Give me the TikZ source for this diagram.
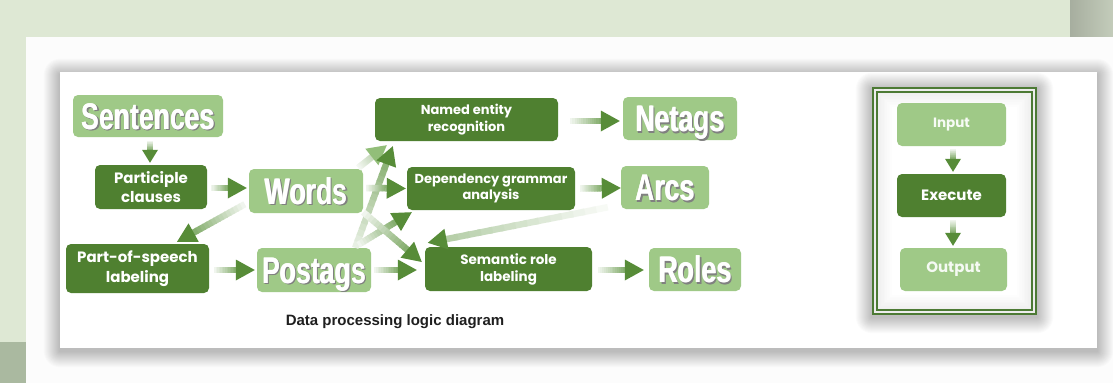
\documentclass[tikz,border=0pt]{standalone}
\usepackage{fontspec}
\setmainfont{Liberation Sans}
\newfontfamily\popfont{Poppins}
\usepackage{graphicx}
\usetikzlibrary{calc}

\definecolor{lightg}{HTML}{9FC987}
\definecolor{darkg}{HTML}{4F8030}
\definecolor{arrowg}{HTML}{5E9440}
\definecolor{headg}{HTML}{578C38}
\definecolor{strip}{HTML}{DEE8D4}
\definecolor{stripdark}{HTML}{AAB9A0}
\definecolor{frameg}{HTML}{4C7A34}

% big condensed white label with a dark drop shadow (smeared for extra weight)
\newcommand\bigword[1]{{\fontsize{37}{37}\selectfont\bfseries
  \scalebox{0.72}[1]{%
    \rlap{\hspace{1.8pt}\raisebox{-1.7pt}{\color{black!50}#1}}%
    \rlap{\hspace{2.5pt}\raisebox{-1.7pt}{\color{black!50}#1}}%
    \rlap{\hspace{0.8pt}\color{white}#1}%
    \color{white}#1}}}

% parameters of the gradient arrows
\def\ghl{19pt}\def\ghw{10.5pt}\def\gsw{6.5pt}\def\gstart{4}\def\gend{75}\def\ghc{headg}
\tikzset{garrow/.cd,
  len/.store in=\ghl, half/.store in=\ghw, width/.store in=\gsw,
  from/.store in=\gstart, to/.store in=\gend, head/.store in=\ghc}

% fat arrow whose shaft fades from white into green
\newcommand\garrow[3][]{%
  \begin{scope}
    \tikzset{garrow/.cd,#1}
    \path (#2) coordinate (ga-s) (#3) coordinate (ga-e);
    \path ($(ga-e)!\ghl!(ga-s)$) coordinate (ga-h);
    \foreach \k in {1,...,14}{
      \pgfmathsetmacro\pa{(\k-1)/14}
      \pgfmathsetmacro\pb{\k/14+0.02}
      \pgfmathsetmacro\mix{\gstart+(\gend-\gstart)*\k/14}
      \draw[line width=\gsw, draw=arrowg!\mix!white]
        ($(ga-s)!\pa!(ga-h)$) -- ($(ga-s)!\pb!(ga-h)$);
    }
    \fill[\ghc] (ga-e) -- ($(ga-h)!\ghw!90:(ga-e)$) -- ($(ga-h)!\ghw!-90:(ga-e)$) -- cycle;
  \end{scope}}

% soft shadow under a rectangular node: #1 node, #2 spread, #3 drop
\newcommand\softshadow[3]{%
  \foreach \i in {1,...,#2}{
    \fill[black, fill opacity=0.016, rounded corners=\i pt]
      ($(#1.north west)+(-\i,-\i+#3)$) rectangle ($(#1.south east)+(\i,\i+#3)$);
  }}

\tikzset{
  lightbox/.style={fill=lightg, rounded corners=5pt, inner sep=0pt,
    text height=26.5pt, text depth=0pt},
  darkbox/.style={fill=darkg, rounded corners=5pt, inner sep=0pt, text=white,
    align=center, font=\popfont\bfseries\fontsize{13.5}{17}\selectfont},
  flowbox/.style={rounded corners=5pt, inner sep=0pt, minimum width=109pt,
    minimum height=43pt, font=\popfont\bfseries\fontsize{15}{17}\selectfont},
}

\begin{document}
\begin{tikzpicture}[x=1pt,y=-1pt]
\useasboundingbox (0,0) rectangle (1113,383);

% page background
\fill[white] (0,0) rectangle (1113,383);
\fill[strip] (0,0) rectangle (1070,37);
\shade[left color=black!25!strip, right color=black!12!strip] (1070,0) rectangle (1113,37);
\fill[strip] (0,37) rectangle (26,342);
\fill[stripdark] (0,342) rectangle (26,383);
\fill[white!99!black] (26,37) rectangle (1113,383);

% the card
\path node (card) [minimum width=1037pt, minimum height=276pt, inner sep=0pt] at (578.5,210) {};
\softshadow{card}{16}{3}
\fill[white] (card.north west) rectangle (card.south east);

% processing chain
\node (sent) [lightbox, minimum width=150pt, minimum height=42pt] at (148,116) {\bigword{Sentences}};
\node (part) [darkbox, minimum width=112pt, minimum height=44pt, font=\popfont\bfseries\fontsize{15}{19.5}\selectfont] at (151,187) {Participle\\clauses};
\node (words) [lightbox, minimum width=114pt, minimum height=44pt] at (306,191) {\bigword{Words}};
\node (pos) [darkbox, minimum width=143pt, minimum height=49pt, font=\popfont\bfseries\fontsize{15}{19.5}\selectfont] at (137.5,268.5) {Part-of-speech\\labeling};
\node (postags) [lightbox, minimum width=114pt, minimum height=44pt] at (314,270) {\bigword{Postags}};
\node (ner) [darkbox, minimum width=183pt, minimum height=43pt, font=\popfont\bfseries\fontsize{13}{16.5}\selectfont] at (466.5,119.5) {Named entity\\recognition};
\node (dep) [darkbox, minimum width=168pt, minimum height=43pt, font=\popfont\bfseries\fontsize{13}{16.5}\selectfont] at (491,188.5) {Dependency grammar\\analysis};
\node (srl) [darkbox, minimum width=167pt, minimum height=44pt] at (508.5,269) {Semantic role\\labeling};
\node (netags) [lightbox, minimum width=114pt, minimum height=43pt] at (680,118.5) {\bigword{Netags}};
\node (arcs) [lightbox, minimum width=88pt, minimum height=43pt] at (665,187.5) {\bigword{Arcs}};
\node (roles) [lightbox, minimum width=92pt, minimum height=43pt] at (695,269.5) {\bigword{Roles}};

\node (cap) [text=black!88, font=\bfseries\fontsize{15}{17}\selectfont] at (395,322) {Data processing logic diagram};

% connectors of the chain
\garrow[len=13pt,half=8pt]{$(sent.south)+(2,4)$}{$(part.north)+(-1,-2)$}
\garrow{$(part.east)+(4,1)$}{$(words.west)+(-2,-3)$}
\garrow{$(words.south west)+(-4,-9)$}{$(pos.north)+(39.5,-2)$}
\garrow{$(pos.east)+(5,1.5)$}{$(postags.west)+(-2,0)$}
\garrow[to=35,head=lightg!80!arrowg]{$(words.north east)+(-5,-1)$}{$(ner.south west)+(12,4)$}
\garrow[from=10,to=70]{$(postags.north east)+(-16,0)$}{$(ner.south west)+(18,5)$}
\garrow{$(words.east)+(3,-3)$}{$(dep.west)+(-1,0)$}
\garrow{$(postags.north east)+(-13,-3)$}{$(dep.south west)+(5,2)$}
\garrow{$(words.south east)+(0,-1)$}{$(srl.west)+(-3,-7)$}
\garrow{$(postags.east)+(3,0)$}{$(srl.west)+(-8,1)$}
\garrow[from=2,to=45]{$(arcs.south west)+(-13,-2)$}{$(srl.north west)+(3,-4)$}
\garrow{$(ner.east)+(12,1.5)$}{$(netags.west)+(-3,2.5)$}
\garrow{$(dep.east)+(5,0)$}{$(arcs.west)+(0,0.5)$}
\garrow{$(srl.east)+(6,1)$}{$(roles.west)+(-5,0.5)$}

% legend frame with inner glow and double border
\path node (frame) [minimum width=165pt, minimum height=228pt, inner sep=0pt] at (954.5,201) {};
\softshadow{frame}{16}{2}
\fill[black!7] (frame.north west) rectangle (frame.south east);
\foreach \i in {0,...,9}{
  \pgfmathsetmacro\gl{7*(1-\i/10)}
  \fill[black!\gl] ($(frame.north west)+(4+1.6*\i,4+1.6*\i)$) rectangle ($(frame.south east)+(-4-1.6*\i,-4-1.6*\i)$);
}
\fill[white] ($(frame.north west)+(20,20)$) rectangle ($(frame.south east)+(-20,-20)$);
\draw[frameg, line width=1.8pt] ($(frame.north west)+(0.9,0.9)$) rectangle ($(frame.south east)+(-0.9,-0.9)$);
\draw[frameg, line width=1.5pt] ($(frame.north west)+(5,5)$) rectangle ($(frame.south east)+(-5,-5)$);

\node (input) [flowbox, fill=lightg, text=white!92!lightg, font=\popfont\bfseries\fontsize{13.5}{16}\selectfont] at (951.5,124.5) {Input};
\node (exec) [flowbox, fill=darkg, text=white] at (951.5,195.5) {Execute};
\node (output) [flowbox, fill=lightg, text=white!90!lightg, minimum width=107pt] at (953.5,269.5) {Output};

\garrow[len=13pt,half=8pt,width=6pt]{$(input.south)+(1.5,3)$}{$(exec.north)+(1.5,-2)$}
\garrow[len=13pt,half=8pt,width=6pt]{$(exec.south)+(1.5,3)$}{$(output.north)+(-0.5,-2)$}
\end{tikzpicture}
\end{document}
